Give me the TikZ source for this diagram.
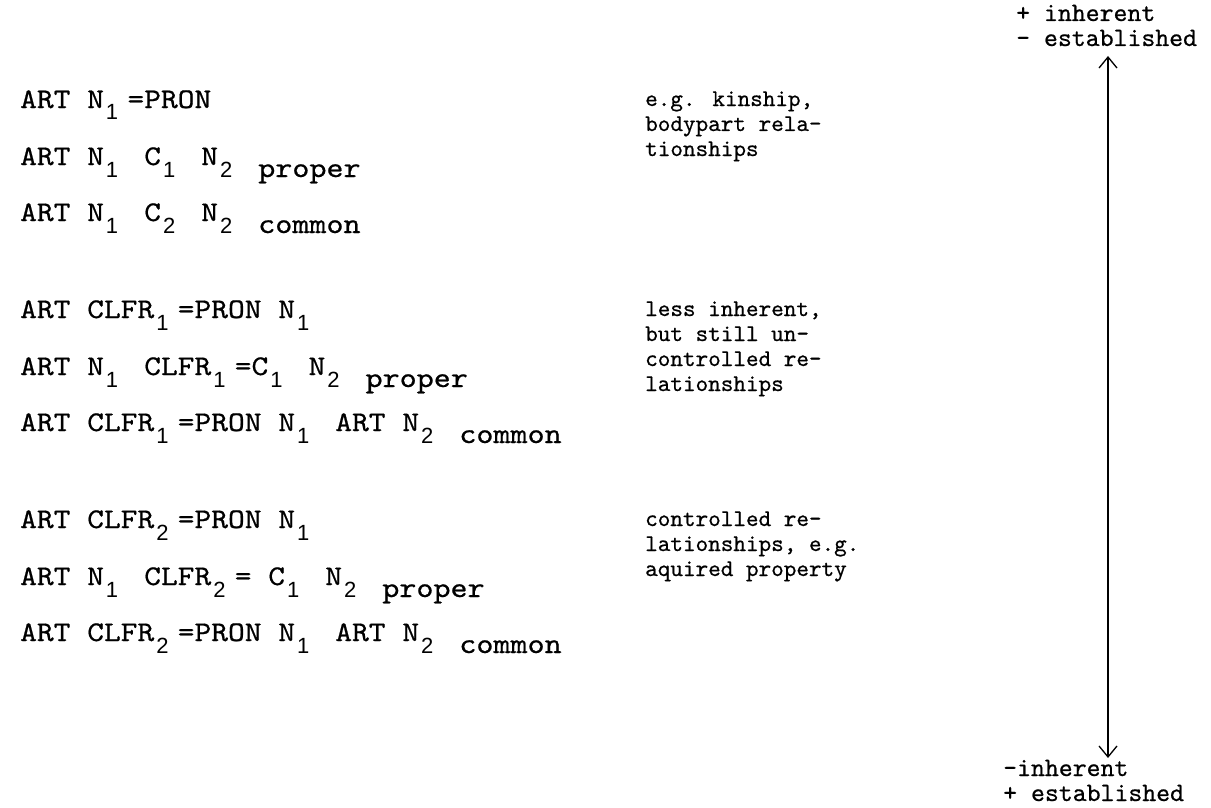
\documentclass[tikz,border=0pt]{standalone}
\usepackage{fontspec}
\usetikzlibrary{arrows.meta}
\newfontfamily\twfont{lmmono10-regular.otf}[FakeStretch=1.12,FakeBold=0.6]
\newfontfamily\ntfont{lmmono10-regular.otf}[FakeStretch=1.0,FakeBold=0.6]
\newfontfamily\sbfont{Liberation Sans}
\newcommand\subd[1]{\makebox[23.5pt][l]{\hspace{2pt}\raisebox{-12pt}{\sbfont\fontsize{22}{22}\selectfont #1}}}
\newcommand\low[1]{\raisebox{-12pt}{\fontsize{29}{30}\selectfont #1}}
\tikzset{
  formula/.style={anchor=base west, inner sep=0pt, font=\twfont\fontsize{28.5}{30}\selectfont},
  note/.style={anchor=base west, inner sep=0pt, align=left, font=\ntfont\fontsize{24}{25}\selectfont},
  endlabel/.style={anchor=base west, inner sep=0pt, align=left, font=\ntfont\fontsize{26.5}{25}\selectfont},
  axisarrow/.style={line width=1.3pt, {Straight Barb[length=11pt,width=18pt]}-{Straight Barb[length=11pt,width=18pt]}}
}
\begin{document}
\begin{tikzpicture}[x=1pt,y=-1pt]
\useasboundingbox (0,0) rectangle (1211,808);
% left formulas
\node[formula] (r1) at (20,108) {ART N\subd{1}=PRON};
\node[formula] (r2) at (20,165) {ART N\subd{1} C\subd{1} N\subd{2} \low{proper}};
\node[formula] (r3) at (20,221) {ART N\subd{1} C\subd{2} N\subd{2} \low{common}};
\node[formula] (r4) at (20,318) {ART CLFR\subd{1}=PRON N\subd{1}};
\node[formula] (r5) at (20,375) {ART N\subd{1} CLFR\subd{1}=C\subd{1} N\subd{2} \low{proper}};
\node[formula] (r6) at (20,431) {ART CLFR\subd{1}=PRON N\subd{1} ART N\subd{2} \low{common}};
\node[formula] (r7) at (20,528) {ART CLFR\subd{2}=PRON N\subd{1}};
\node[formula] (r8) at (20,585) {ART N\subd{1} CLFR\subd{2}= C\subd{1} N\subd{2} \low{proper}};
\node[formula] (r9) at (20,641) {ART CLFR\subd{2}=PRON N\subd{1} ART N\subd{2} \low{common}};
% right notes (base = baseline of last line)
\node[note] (n1) at (645,156) {e.g. kinship,\\bodypart rela-\\tionships};
\node[note] (n2) at (645,391) {less inherent,\\but still un-\\controlled re-\\lationships};
\node[note] (n3) at (645,576) {controlled re-\\lationships, e.g.\\aquired property};
% scale labels
\node[endlabel] (top) at (1016,46) {+ inherent\\- established};
\node[endlabel] (bot) at (1003,801) {-inherent\\+ established};
\coordinate (atop) at (1108,56);
\coordinate (abot) at (1108,758);
\draw[axisarrow] (atop) -- (abot);
\end{tikzpicture}
\end{document}
